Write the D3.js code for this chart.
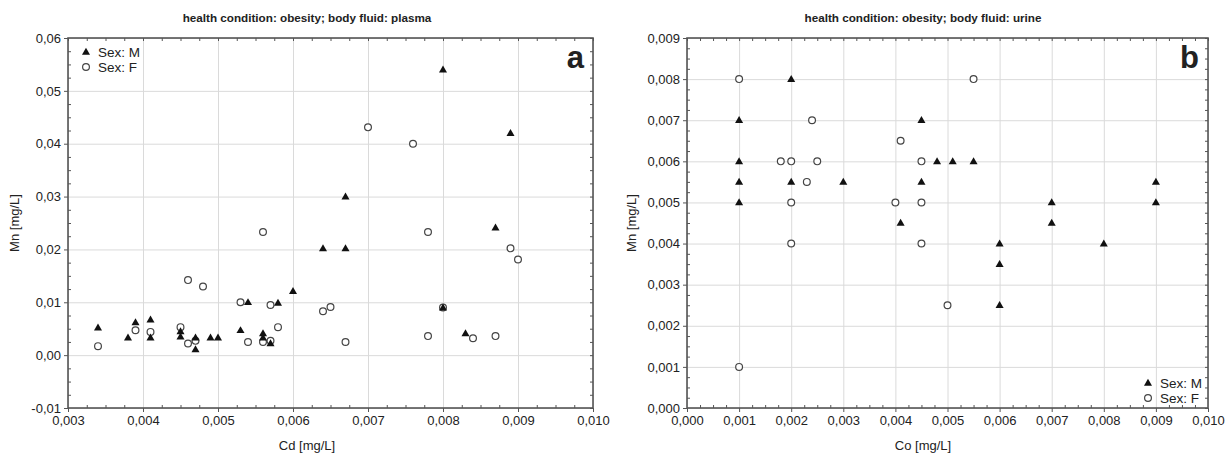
<!DOCTYPE html>
<html>
<head>
<meta charset="utf-8">
<script src="https://cdn.jsdelivr.net/npm/d3@7"></script>
<style>
  body { margin: 0; background: #fff; }
  text { font-family: 'Liberation Sans', Arial, sans-serif; fill: #222; }
</style>
</head>
<body>
<svg id="chart" width="1225" height="457"></svg>
<script>
// panel a: plasma, Cd vs Mn  [x, y]
let plasmaMale = [
  [0.0034, 0.0052], [0.0038, 0.0033], [0.0039, 0.0062], [0.0041, 0.0067], [0.0041, 0.0033],
  [0.0045, 0.0045], [0.0045, 0.0035], [0.0047, 0.0033], [0.0047, 0.0011], [0.0049, 0.0033],
  [0.0050, 0.0033], [0.0053, 0.0047], [0.0054, 0.0100], [0.0056, 0.0041], [0.0056, 0.0033],
  [0.0057, 0.0022], [0.0058, 0.0099], [0.0060, 0.0121], [0.0064, 0.0202], [0.0067, 0.0202],
  [0.0067, 0.0300], [0.0080, 0.0540], [0.0080, 0.0090], [0.0083, 0.0041], [0.0087, 0.0241],
  [0.0089, 0.0420]
];
let plasmaFemale = [
  [0.0034, 0.0017], [0.0039, 0.0047], [0.0041, 0.0044], [0.0045, 0.0053], [0.0046, 0.0022],
  [0.0046, 0.0142], [0.0048, 0.0130], [0.0047, 0.0027], [0.0053, 0.0100], [0.0054, 0.0025],
  [0.0056, 0.0233], [0.0056, 0.0025], [0.0057, 0.0095], [0.0057, 0.0027], [0.0058, 0.0053],
  [0.0064, 0.0083], [0.0065, 0.0091], [0.0067, 0.0025], [0.0070, 0.0431], [0.0076, 0.0400],
  [0.0078, 0.0233], [0.0078, 0.0036], [0.0080, 0.0090], [0.0084, 0.0032], [0.0087, 0.0036],
  [0.0089, 0.0202], [0.0090, 0.0181]
];
// panel b: urine, Co vs Mn
let urineMale = [
  [0.001, 0.0070], [0.001, 0.0060], [0.001, 0.0055], [0.001, 0.0050], [0.002, 0.0080],
  [0.002, 0.0055], [0.003, 0.0055], [0.0041, 0.0045], [0.0045, 0.0070], [0.0045, 0.0055],
  [0.0048, 0.0060], [0.0051, 0.0060], [0.0055, 0.0060], [0.006, 0.0040], [0.006, 0.0035],
  [0.006, 0.0025], [0.007, 0.0050], [0.007, 0.0045], [0.008, 0.0040], [0.009, 0.0055],
  [0.009, 0.0050]
];
let urineFemale = [
  [0.001, 0.0080], [0.001, 0.0010], [0.0018, 0.0060], [0.002, 0.0060], [0.002, 0.0050],
  [0.002, 0.0040], [0.0023, 0.0055], [0.0024, 0.0070], [0.0025, 0.0060], [0.004, 0.0050],
  [0.0041, 0.0065], [0.0045, 0.0060], [0.0045, 0.0050], [0.0045, 0.0040], [0.005, 0.0025],
  [0.0055, 0.0080]
];

let plasmaXTicks = [0.003, 0.004, 0.005, 0.006, 0.007, 0.008, 0.009, 0.010];
let plasmaYTicks = [-0.01, 0.00, 0.01, 0.02, 0.03, 0.04, 0.05, 0.06];
let urineXTicks = [0.000, 0.001, 0.002, 0.003, 0.004, 0.005, 0.006, 0.007, 0.008, 0.009, 0.010];
let urineYTicks = [0.000, 0.001, 0.002, 0.003, 0.004, 0.005, 0.006, 0.007, 0.008, 0.009];
let legendLabels = ['Sex: M', 'Sex: F'];

let svg = d3.select('#chart');
let triangle = d3.symbol().type(d3.symbolTriangle).size(28);

// comma decimal separator like the original
function fmt(digits) {
  return v => v.toFixed(digits).replace('.', ',');
}

// minor ticks between majors, 4 subdivisions
function minors(ticks) {
  let out = [];
  for (let i = 0; i < ticks.length - 1; i++) {
    let step = (ticks[i + 1] - ticks[i]) / 4;
    for (let k = 1; k < 4; k++) out.push(ticks[i] + k * step);
  }
  return out;
}

function drawPanel(p) {
  let x = d3.scaleLinear().domain(d3.extent(p.xTicks)).range([p.left, p.right]);
  let y = d3.scaleLinear().domain(d3.extent(p.yTicks)).range([p.bottom, p.top]);
  let w = p.right - p.left, h = p.bottom - p.top;
  let g = svg.append('g');

  // grid
  g.append('g')
    .attr('transform', 'translate(0,' + p.bottom + ')')
    .call(d3.axisBottom(x).tickValues(p.xTicks).tickSize(-h).tickFormat(''))
    .call(a => a.select('.domain').remove())
    .selectAll('line').attr('stroke', '#dadada');
  g.append('g')
    .attr('transform', 'translate(' + p.left + ',0)')
    .call(d3.axisLeft(y).tickValues(p.yTicks).tickSize(-w).tickFormat(''))
    .call(a => a.select('.domain').remove())
    .selectAll('line').attr('stroke', '#dadada');

  // minor ticks on all four sides, pointing inward
  let minorStyle = a => {
    a.select('.domain').remove();
    a.selectAll('line').attr('stroke', '#555');
  };
  g.append('g').attr('transform', 'translate(0,' + p.bottom + ')')
    .call(d3.axisBottom(x).tickValues(minors(p.xTicks)).tickSize(-3).tickFormat('')).call(minorStyle);
  g.append('g').attr('transform', 'translate(0,' + p.top + ')')
    .call(d3.axisTop(x).tickValues(minors(p.xTicks).concat(p.xTicks)).tickSize(-3).tickFormat('')).call(minorStyle);
  g.append('g').attr('transform', 'translate(' + p.left + ',0)')
    .call(d3.axisLeft(y).tickValues(minors(p.yTicks)).tickSize(-3).tickFormat('')).call(minorStyle);
  g.append('g').attr('transform', 'translate(' + p.right + ',0)')
    .call(d3.axisRight(y).tickValues(minors(p.yTicks).concat(p.yTicks)).tickSize(-3).tickFormat('')).call(minorStyle);

  // main axes with labels
  let xAxis = g.append('g')
    .attr('transform', 'translate(0,' + p.bottom + ')')
    .call(d3.axisBottom(x).tickValues(p.xTicks).tickSize(4).tickPadding(4).tickFormat(fmt(3)));
  let yAxis = g.append('g')
    .attr('transform', 'translate(' + p.left + ',0)')
    .call(d3.axisLeft(y).tickValues(p.yTicks).tickSize(4).tickPadding(3).tickFormat(fmt(p.yDigits)));
  [xAxis, yAxis].forEach(a => {
    a.select('.domain').remove();
    a.selectAll('line').attr('stroke', '#555');
    a.selectAll('text').attr('font-size', '13px').attr('fill', '#333')
      .style('font-family', "'Liberation Sans', Arial, sans-serif");
  });

  // frame
  g.append('rect')
    .attr('x', p.left).attr('y', p.top)
    .attr('width', w).attr('height', h)
    .attr('fill', 'none').attr('stroke', '#555').attr('stroke-width', 1.6);

  // points: circles first, triangles on top
  g.selectAll('circle.f')
    .data(p.female)
    .enter()
    .append('circle')
    .attr('class', 'f')
    .attr('cx', d => x(d[0]))
    .attr('cy', d => y(d[1]))
    .attr('r', 3.4)
    .attr('fill', '#fff')
    .attr('stroke', '#444')
    .attr('stroke-width', 1.2);
  g.selectAll('path.m')
    .data(p.male)
    .enter()
    .append('path')
    .attr('class', 'm')
    .attr('d', triangle)
    .attr('transform', d => 'translate(' + x(d[0]) + ',' + (y(d[1]) + 0.5) + ')')
    .attr('fill', '#111');

  // titles
  g.append('text')
    .attr('x', p.center).attr('y', 22)
    .attr('text-anchor', 'middle')
    .attr('font-size', '11.7px').attr('font-weight', 'bold')
    .attr('fill', '#333')
    .text(p.title);
  g.append('text')
    .attr('x', p.center).attr('y', 450)
    .attr('text-anchor', 'middle')
    .attr('font-size', '13px')
    .text(p.xLabel);
  g.append('text')
    .attr('transform', 'translate(' + p.yLabelX + ',' + ((p.top + p.bottom) / 2) + ') rotate(-90)')
    .attr('text-anchor', 'middle')
    .attr('font-size', '13px')
    .text('Mn [mg/L]');
  g.append('text')
    .attr('x', p.right - 9).attr('y', 68)
    .attr('text-anchor', 'end')
    .attr('font-size', '31px').attr('font-weight', 'bold')
    .attr('fill', '#000')
    .text(p.letter);

  // legend
  let lg = g.append('g').attr('transform', 'translate(' + p.legendX + ',' + p.legendY + ')');
  lg.append('path').attr('d', triangle).attr('transform', 'translate(0,0.5)').attr('fill', '#111');
  lg.append('circle').attr('cy', 15).attr('r', 3.4)
    .attr('fill', '#fff').attr('stroke', '#444').attr('stroke-width', 1.2);
  lg.selectAll('text.lab')
    .data(legendLabels)
    .enter()
    .append('text')
    .attr('class', 'lab')
    .attr('x', 12)
    .attr('y', (d, i) => i * 15 + 5)
    .attr('font-size', '13.5px')
    .text(d => d);
}

drawPanel({
  left: 68, right: 593, top: 38, bottom: 408, center: 307, yLabelX: 19,
  xTicks: plasmaXTicks, yTicks: plasmaYTicks, yDigits: 2,
  male: plasmaMale, female: plasmaFemale,
  title: 'health condition: obesity; body fluid: plasma',
  xLabel: 'Cd [mg/L]', letter: 'a', legendX: 86, legendY: 52
});
drawPanel({
  left: 687, right: 1208, top: 38, bottom: 408, center: 923, yLabelX: 636,
  xTicks: urineXTicks, yTicks: urineYTicks, yDigits: 3,
  male: urineMale, female: urineFemale,
  title: 'health condition: obesity; body fluid: urine',
  xLabel: 'Co [mg/L]', letter: 'b', legendX: 1148, legendY: 383
});
</script>
</body>
</html>
